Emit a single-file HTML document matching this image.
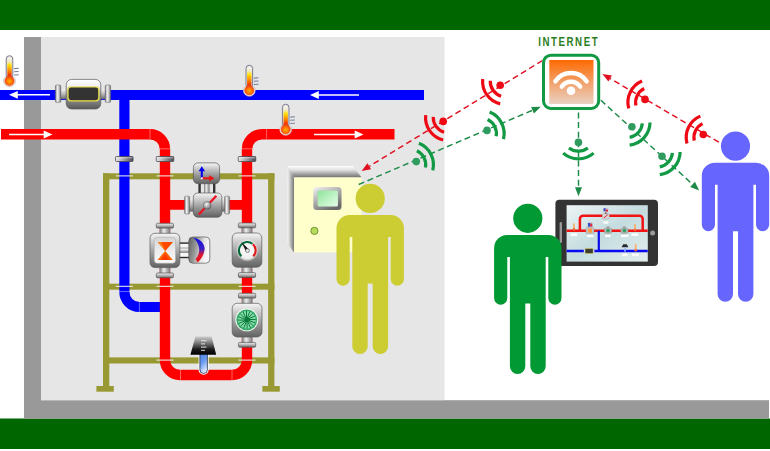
<!DOCTYPE html>
<html lang="en">
<head>
<meta charset="utf-8">
<title>Internet</title>
<style>
html,body{margin:0;padding:0;background:#fff;}
body{width:770px;height:451px;overflow:hidden;font-family:"Liberation Sans",sans-serif;}
svg{display:block;}
.lbl{font-family:"Liberation Sans",sans-serif;font-weight:bold;font-size:12.1px;letter-spacing:1.95px;fill:#2b7d22;}
</style>
</head>
<body>
<svg width="770" height="451" viewBox="0 0 770 451">
<defs>
<linearGradient id="thg" x1="0" y1="0" x2="0" y2="1">
 <stop offset="0" stop-color="#f4f4f4"/><stop offset="0.22" stop-color="#f0e9c0"/><stop offset="0.38" stop-color="#ffe000"/><stop offset="0.62" stop-color="#ff8a00"/><stop offset="0.85" stop-color="#f03000"/><stop offset="1" stop-color="#e82000"/>
</linearGradient>
<radialGradient id="thb" cx="0.5" cy="0.55" r="0.55">
 <stop offset="0" stop-color="#ffb000"/><stop offset="0.45" stop-color="#ff8000"/><stop offset="1" stop-color="#f23a10"/>
</radialGradient>
<linearGradient id="body" x1="0" y1="0" x2="0" y2="1">
 <stop offset="0" stop-color="#f6f6f6"/><stop offset="0.22" stop-color="#d2d2d2"/><stop offset="0.6" stop-color="#989898"/><stop offset="1" stop-color="#626262"/>
</linearGradient>
<linearGradient id="bodyh" x1="0" y1="0" x2="1" y2="0">
 <stop offset="0" stop-color="#7a7a7a"/><stop offset="0.35" stop-color="#f2f2f2"/><stop offset="0.65" stop-color="#c8c8c8"/><stop offset="1" stop-color="#6e6e6e"/>
</linearGradient>
<linearGradient id="flv" x1="0" y1="0" x2="0" y2="1">
 <stop offset="0" stop-color="#8a8a8a"/><stop offset="0.3" stop-color="#f4f4f4"/><stop offset="0.6" stop-color="#c4c4c4"/><stop offset="1" stop-color="#707070"/>
</linearGradient>
<linearGradient id="flh" x1="0" y1="0" x2="0" y2="1">
 <stop offset="0" stop-color="#f0f0f0"/><stop offset="0.45" stop-color="#bdbdbd"/><stop offset="1" stop-color="#6a6a6a"/>
</linearGradient>
<linearGradient id="neckh" x1="0" y1="0" x2="1" y2="0">
 <stop offset="0" stop-color="#777"/><stop offset="0.4" stop-color="#eee"/><stop offset="1" stop-color="#777"/>
</linearGradient>
<linearGradient id="org" x1="0" y1="0" x2="0" y2="1">
 <stop offset="0" stop-color="#ff6a00"/><stop offset="0.45" stop-color="#f39a5e"/><stop offset="1" stop-color="#e9d2c4"/>
</linearGradient>
<linearGradient id="boxtop" x1="0" y1="0" x2="0" y2="1">
 <stop offset="0" stop-color="#ffffff"/><stop offset="0.35" stop-color="#e0e0e0"/><stop offset="1" stop-color="#707070"/>
</linearGradient>
<linearGradient id="boxleft" x1="0" y1="0" x2="1" y2="0">
 <stop offset="0" stop-color="#f4f4f4"/><stop offset="0.4" stop-color="#c4c4c4"/><stop offset="1" stop-color="#777"/>
</linearGradient>
<linearGradient id="scr" x1="0" y1="0" x2="0.6" y2="1">
 <stop offset="0" stop-color="#f4f4f4"/><stop offset="0.5" stop-color="#b0b0b0"/><stop offset="1" stop-color="#6a6a6a"/>
</linearGradient>
<linearGradient id="scrg" x1="0" y1="0" x2="1" y2="1">
 <stop offset="0" stop-color="#8fe39a"/><stop offset="1" stop-color="#e6ffe8"/>
</linearGradient>
<linearGradient id="sens" x1="0" y1="0" x2="0" y2="1">
 <stop offset="0" stop-color="#cdcdcd"/><stop offset="0.3" stop-color="#8a8a8a"/><stop offset="0.7" stop-color="#1a1a1a"/><stop offset="1" stop-color="#000"/>
</linearGradient>
<linearGradient id="tube" x1="0" y1="0" x2="0.35" y2="1">
 <stop offset="0" stop-color="#4a80e6"/><stop offset="0.55" stop-color="#6a9cf0"/><stop offset="1" stop-color="#dce8ff"/>
</linearGradient>
<linearGradient id="tab" x1="0" y1="0" x2="1" y2="1">
 <stop offset="0" stop-color="#eef4f4"/><stop offset="0.5" stop-color="#c4dcdf"/><stop offset="1" stop-color="#e4eeee"/>
</linearGradient>
<linearGradient id="cres" x1="0" y1="0" x2="0" y2="1">
 <stop offset="0" stop-color="#1010e0"/><stop offset="0.45" stop-color="#3a20c8"/><stop offset="0.7" stop-color="#e01830"/><stop offset="1" stop-color="#f01010"/>
</linearGradient>
<linearGradient id="acth" x1="0" y1="0" x2="1" y2="0.25">
 <stop offset="0" stop-color="#5e5e5e"/><stop offset="0.4" stop-color="#9a9a9a"/><stop offset="0.75" stop-color="#e6e6e6"/><stop offset="1" stop-color="#fafafa"/>
</linearGradient>
<radialGradient id="dial" cx="0.5" cy="0.5" r="0.5">
 <stop offset="0" stop-color="#ffffff"/><stop offset="0.75" stop-color="#f2f2f2" stop-opacity="0.95"/><stop offset="1" stop-color="#e0e0e0" stop-opacity="0"/>
</radialGradient>
<linearGradient id="clampg" x1="0" y1="0" x2="1" y2="0">
 <stop offset="0" stop-color="#ececec"/><stop offset="0.45" stop-color="#a4a4aa"/><stop offset="1" stop-color="#464852"/>
</linearGradient>
<linearGradient id="win" x1="0" y1="0" x2="0" y2="1">
 <stop offset="0" stop-color="#d4d4d4"/><stop offset="0.5" stop-color="#ececec"/><stop offset="1" stop-color="#f8f8f8"/>
</linearGradient>
<linearGradient id="body2" x1="0" y1="0" x2="0" y2="1">
 <stop offset="0" stop-color="#ffffff"/><stop offset="0.22" stop-color="#f0f0f0"/><stop offset="0.5" stop-color="#a8a8a8"/><stop offset="1" stop-color="#585858"/>
</linearGradient>
<linearGradient id="hourg" x1="0" y1="0" x2="0" y2="1">
 <stop offset="0" stop-color="#ff7a00"/><stop offset="0.5" stop-color="#ff3c00"/><stop offset="1" stop-color="#ff8a00"/>
</linearGradient>
<radialGradient id="ball" cx="0.4" cy="0.35" r="0.7">
 <stop offset="0" stop-color="#f4f4f4"/><stop offset="1" stop-color="#6a6a6a"/>
</radialGradient>
</defs>

<rect x="0" y="0" width="770" height="451" fill="#fff"/>
<rect x="0" y="0" width="770" height="30" fill="#006600"/>
<rect x="0" y="418.5" width="770" height="30.5" fill="#006600"/>
<rect x="24" y="37" width="17" height="381.5" fill="#999"/>
<rect x="24" y="400.2" width="745" height="18.3" fill="#999"/>
<rect x="41" y="37" width="403.6" height="363.2" fill="#e6e6e6"/>
<g fill="#999933">
<rect x="103" y="173.3" width="171.4" height="6"/>
<rect x="103" y="283.7" width="171.4" height="6"/>
<rect x="103" y="357.4" width="171.4" height="6.1"/>
<rect x="103" y="173.3" width="6.3" height="214"/>
<rect x="268.1" y="173.3" width="6.3" height="214"/>
<rect x="96.4" y="386" width="17.4" height="5.7"/>
<rect x="262.4" y="386" width="17.4" height="5.7"/>
</g>
<g fill="none" stroke-linejoin="miter">
<path d="M0,94.9 H424" stroke="#0000ff" stroke-width="10"/>
<path d="M124.4,95 V291.5 A15,15 0 0 0 139.4,307 H161" stroke="#0000ff" stroke-width="10.2"/>
<path d="M1,134.2 H150 A15,15 0 0 1 165,149.2 V360 A15,15 0 0 0 180,375 H232 A15,15 0 0 0 247,360 V149.2 A15,15 0 0 1 262,134.2 H394.5" stroke="#ff0000" stroke-width="10.4"/>
<path d="M165,204.8 H247" stroke="#ff0000" stroke-width="9.8"/>
</g>
<line x1="150" y1="128.6" x2="150" y2="139" stroke="#ffffff" stroke-opacity="0.55" stroke-width="0.7"/>
<line x1="159.8" y1="148.8" x2="170.2" y2="148.8" stroke="#ffffff" stroke-opacity="0.55" stroke-width="0.7"/>
<line x1="266.6" y1="128.6" x2="266.6" y2="139" stroke="#ffffff" stroke-opacity="0.55" stroke-width="0.7"/>
<line x1="241.8" y1="148.8" x2="252.2" y2="148.8" stroke="#ffffff" stroke-opacity="0.55" stroke-width="0.7"/>
<line x1="180.5" y1="369.8" x2="180.5" y2="380.2" stroke="#ffffff" stroke-opacity="0.55" stroke-width="0.7"/>
<line x1="232" y1="369.8" x2="232" y2="380.2" stroke="#ffffff" stroke-opacity="0.55" stroke-width="0.7"/>
<line x1="139.4" y1="301.8" x2="139.4" y2="312.2" stroke="#ffffff" stroke-opacity="0.55" stroke-width="0.7"/>
<line x1="119.2" y1="291.5" x2="129.6" y2="291.5" stroke="#ffffff" stroke-opacity="0.55" stroke-width="0.7"/>
<line x1="50" y1="94.8" x2="16.04" y2="94.8" stroke="#fff" stroke-width="1.5"/>
<polygon points="9,94.8 17.8,90.89999999999999 17.8,98.7" fill="#fff"/>
<line x1="359" y1="95" x2="317.04" y2="95" stroke="#fff" stroke-width="1.5"/>
<polygon points="310,95 318.8,91.1 318.8,98.9" fill="#fff"/>
<line x1="9" y1="134.5" x2="45.46" y2="134.5" stroke="#fff" stroke-width="1.5"/>
<polygon points="52.5,134.5 43.7,130.6 43.7,138.4" fill="#fff"/>
<line x1="314" y1="134.5" x2="356.46" y2="134.5" stroke="#fff" stroke-width="1.5"/>
<polygon points="363.5,134.5 354.7,130.6 354.7,138.4" fill="#fff"/>
<rect x="115.55" y="156.5" width="17.5" height="5" rx="0.8" fill="url(#clampg)" stroke="#4a4a50" stroke-width="0.8"/>
<rect x="116.14999999999999" y="157.3" width="16.3" height="1" fill="#fff" opacity="0.55"/>
<rect x="156.25" y="156.5" width="17.5" height="5" rx="0.8" fill="url(#clampg)" stroke="#4a4a50" stroke-width="0.8"/>
<rect x="156.85" y="157.3" width="16.3" height="1" fill="#fff" opacity="0.55"/>
<rect x="238.25" y="156.5" width="17.5" height="5" rx="0.8" fill="url(#clampg)" stroke="#4a4a50" stroke-width="0.8"/>
<rect x="238.85" y="157.3" width="16.3" height="1" fill="#fff" opacity="0.55"/>
<rect x="115.8" y="175.4" width="17" height="1" fill="#f4f4f4"/>
<rect x="156.5" y="175.4" width="17" height="1" fill="#f4f4f4"/>
<rect x="238.5" y="175.4" width="17" height="1" fill="#f4f4f4"/>
<rect x="115.8" y="285.8" width="17" height="1" fill="#f4f4f4"/>
<rect x="156.5" y="285.8" width="17" height="1" fill="#f4f4f4"/>
<rect x="238.5" y="285.8" width="17" height="1" fill="#f4f4f4"/>
<rect x="156.5" y="359.6" width="17" height="1" fill="#f4f4f4"/>
<rect x="238.5" y="359.6" width="17" height="1" fill="#f4f4f4"/>
<g>
<rect x="60.5" y="89.4" width="45" height="9.8" fill="url(#flh)"/>
<rect x="55.4" y="85" width="5.4" height="17.4" rx="1.2" fill="url(#bodyh)" stroke="#666" stroke-width="0.5"/>
<rect x="105.2" y="85" width="5.4" height="17.4" rx="1.2" fill="url(#bodyh)" stroke="#666" stroke-width="0.5"/>
<rect x="66.2" y="79.4" width="34.6" height="29.6" rx="5.5" fill="url(#body2)" stroke="#5a5a5a" stroke-width="0.7"/>
<rect x="68" y="87" width="30.8" height="13.8" rx="3" fill="#333" stroke="#e8e040" stroke-width="1.2"/>
</g>
<g>
<rect x="189" y="198.6" width="36" height="13" fill="url(#flh)"/>
<rect x="184.6" y="196.2" width="5" height="17.8" rx="1.2" fill="url(#bodyh)" stroke="#666" stroke-width="0.5"/>
<rect x="224.6" y="196.2" width="5" height="17.8" rx="1.2" fill="url(#bodyh)" stroke="#666" stroke-width="0.5"/>
<rect x="198.4" y="182" width="2.4" height="12" fill="#333"/>
<rect x="213" y="182" width="2.4" height="12" fill="#333"/>
<rect x="204" y="182" width="5.6" height="12" fill="url(#neckh)"/>
<rect x="193.3" y="193" width="28.6" height="24.2" rx="4.5" fill="url(#body)" stroke="#5a5a5a" stroke-width="0.7"/>
<line x1="198.8" y1="214.6" x2="216.4" y2="195.8" stroke="#ee1122" stroke-width="2.2"/>
<circle cx="207.2" cy="205.4" r="3.9" fill="url(#ball)" stroke="#555" stroke-width="0.5"/>
<rect x="193.4" y="162.9" width="26.2" height="20.8" rx="4.5" fill="url(#body)" stroke="#5a5a5a" stroke-width="0.7"/>
<line x1="201.8" y1="178.3" x2="201.8" y2="170" stroke="#0000ee" stroke-width="2"/>
<polygon points="201.8,166.2 198.6,171.2 205,171.2" fill="#0000ee"/>
<line x1="201.8" y1="178.3" x2="210" y2="178.3" stroke="#ee1111" stroke-width="2"/>
<polygon points="214.4,178.3 209.2,175.2 209.2,181.4" fill="#ee1111"/>
<circle cx="201.8" cy="178.3" r="1.1" fill="#fff"/>
</g>
<g>
<rect x="179" y="242.4" width="11" height="15.8" fill="#2a2a2a"/>
<rect x="179" y="243.8" width="11" height="13" fill="#f6f6f6"/>
<rect x="179" y="247.6" width="11" height="5.2" fill="url(#flv)"/>
<rect x="159.6" y="227.3" width="10.6" height="7" fill="url(#neckh)"/>
<rect x="156.3" y="223.3" width="17.2" height="4.8" rx="1.2" fill="url(#flh)" stroke="#555" stroke-width="0.7"/>
<rect x="159.6" y="266.6" width="10.6" height="7" fill="url(#neckh)"/>
<rect x="156.3" y="273.0" width="17.2" height="4.8" rx="1.2" fill="url(#flh)" stroke="#555" stroke-width="0.7"/>
<rect x="150.0" y="233.3" width="29.8" height="34.30000000000001" rx="5" fill="url(#body)" stroke="#5a5a5a" stroke-width="0.7"/>
<rect x="154.3" y="237.3" width="21.2" height="26" rx="3" fill="url(#win)" stroke="#a8a8a8" stroke-width="0.5"/>
<polygon points="157.5,242 172.8,242 165.2,251" fill="#ff7a10"/>
<polygon points="157.5,259.9 172.8,259.9 165.2,251" fill="#ff6200"/>
<polygon points="161.5,242 172.8,242 165.2,251" fill="#ff4a00"/>
<polygon points="161,259.9 169.4,259.9 165.2,253.5" fill="#ff3a00"/>
<rect x="188.8" y="237" width="21" height="26.2" rx="4" fill="url(#acth)" stroke="#5a5a5a" stroke-width="0.7"/>
<path d="M193.4,237.8 C202,239 206,246 204.2,251.5 C203,257 200,260.5 197.6,262.3 L195.6,259 C199,255.5 200,250.5 198.6,246 C197.5,242 195.5,239.5 193.4,237.8 Z" fill="url(#cres)"/>
</g>
<g>
<rect x="241.7" y="227" width="10.6" height="7" fill="url(#neckh)"/>
<rect x="238.4" y="223" width="17.2" height="4.8" rx="1.2" fill="url(#flh)" stroke="#555" stroke-width="0.7"/>
<rect x="241.7" y="266.2" width="10.6" height="7" fill="url(#neckh)"/>
<rect x="238.4" y="272.59999999999997" width="17.2" height="4.8" rx="1.2" fill="url(#flh)" stroke="#555" stroke-width="0.7"/>
<rect x="232.2" y="233" width="29.6" height="34.19999999999999" rx="5" fill="url(#body)" stroke="#5a5a5a" stroke-width="0.7"/>
<circle cx="247.3" cy="250.2" r="11.6" fill="url(#dial)"/>
<path d="M241.36,256.34 A8.4,8.4 0 0 1 252.47,243.78" fill="none" stroke="#046a3a" stroke-width="2.1"/>
<path d="M252.92,244.16 A8.4,8.4 0 0 1 253.24,256.34" fill="none" stroke="#e01818" stroke-width="2.1"/>
<polygon points="241.2,241.8 249,249.4 246.2,251.8" fill="#1a1a1a"/>
<circle cx="247.5" cy="250.6" r="1.9" fill="#eee" stroke="#555" stroke-width="0.7"/>
</g>
<g>
<rect x="241.79999999999998" y="297.3" width="10.6" height="7" fill="url(#neckh)"/>
<rect x="238.5" y="293.3" width="17.2" height="4.8" rx="1.2" fill="url(#flh)" stroke="#555" stroke-width="0.7"/>
<rect x="241.79999999999998" y="336" width="10.6" height="7" fill="url(#neckh)"/>
<rect x="238.5" y="342.4" width="17.2" height="4.8" rx="1.2" fill="url(#flh)" stroke="#555" stroke-width="0.7"/>
<rect x="232.2" y="303.3" width="29.8" height="33.69999999999999" rx="5" fill="url(#body)" stroke="#5a5a5a" stroke-width="0.7"/>
<circle cx="246.8" cy="319.8" r="11.5" fill="#e8f6ee"/>
<circle cx="246.8" cy="319.8" r="10.4" fill="#35a868"/>
<circle cx="246.8" cy="319.8" r="8.9" fill="#86dcaa"/>
<line x1="247.99" y1="319.97" x2="255.13" y2="322.93" stroke="#0a7a3a" stroke-width="1"/>
<line x1="247.83" y1="320.41" x2="253.30" y2="325.88" stroke="#0a7a3a" stroke-width="1"/>
<line x1="247.52" y1="320.76" x2="250.48" y2="327.91" stroke="#0a7a3a" stroke-width="1"/>
<line x1="247.10" y1="320.96" x2="247.09" y2="328.70" stroke="#0a7a3a" stroke-width="1"/>
<line x1="246.63" y1="320.99" x2="243.67" y2="328.13" stroke="#0a7a3a" stroke-width="1"/>
<line x1="246.19" y1="320.83" x2="240.72" y2="326.30" stroke="#0a7a3a" stroke-width="1"/>
<line x1="245.84" y1="320.52" x2="238.69" y2="323.48" stroke="#0a7a3a" stroke-width="1"/>
<line x1="245.64" y1="320.10" x2="237.90" y2="320.09" stroke="#0a7a3a" stroke-width="1"/>
<line x1="245.61" y1="319.63" x2="238.47" y2="316.67" stroke="#0a7a3a" stroke-width="1"/>
<line x1="245.77" y1="319.19" x2="240.30" y2="313.72" stroke="#0a7a3a" stroke-width="1"/>
<line x1="246.08" y1="318.84" x2="243.12" y2="311.69" stroke="#0a7a3a" stroke-width="1"/>
<line x1="246.50" y1="318.64" x2="246.51" y2="310.90" stroke="#0a7a3a" stroke-width="1"/>
<line x1="246.97" y1="318.61" x2="249.93" y2="311.47" stroke="#0a7a3a" stroke-width="1"/>
<line x1="247.41" y1="318.77" x2="252.88" y2="313.30" stroke="#0a7a3a" stroke-width="1"/>
<line x1="247.76" y1="319.08" x2="254.91" y2="316.12" stroke="#0a7a3a" stroke-width="1"/>
<line x1="247.96" y1="319.50" x2="255.70" y2="319.51" stroke="#0a7a3a" stroke-width="1"/>
<circle cx="246.8" cy="319.8" r="2.2" fill="#0a7a3a"/>
</g>
<g>
<path d="M199.3,352 V369.7 A4.35,4.35 0 0 0 208,369.7 V352 Z" fill="#fff" stroke="#fff" stroke-width="1.4"/>
<path d="M199.9,352 V369.7 A3.75,3.75 0 0 0 207.4,369.7 V352 Z" fill="url(#tube)" stroke="#2a3350" stroke-width="0.8"/>
<polygon points="195.4,336.4 211.6,336.4 216.2,354.8 190.4,354.8" fill="url(#sens)"/>
<rect x="201" y="340.2" width="5.5" height="1" fill="#eee" opacity="0.9"/>
<rect x="201" y="343.4" width="4" height="1" fill="#eee" opacity="0.9"/>
<rect x="201" y="346.6" width="5.5" height="1" fill="#eee" opacity="0.9"/>
<rect x="201" y="349.8" width="4" height="1" fill="#eee" opacity="0.9"/>
</g>
<g>
<circle cx="9.5" cy="80.9" r="5.9" fill="#fff" stroke="#b8b0b0" stroke-width="0.7"/>
<rect x="6.2" y="55.7" width="6.6" height="23" rx="3.3" fill="#e4e4e8" stroke="#7c7c8c" stroke-width="1"/>
<rect x="7.3" y="56.900000000000006" width="4.4" height="22" rx="2.2" fill="url(#thg)"/>
<circle cx="9.5" cy="80.9" r="4.7" fill="url(#thb)" stroke="#f0542a" stroke-width="0.6"/>
<line x1="14.1" y1="68.60000000000001" x2="18.7" y2="68.30000000000001" stroke="#76829a" stroke-width="1.1"/>
<line x1="14.1" y1="71.8" x2="18.7" y2="71.5" stroke="#76829a" stroke-width="1.1"/>
<line x1="14.1" y1="75.00000000000001" x2="18.7" y2="74.70000000000002" stroke="#76829a" stroke-width="1.1"/>
</g>
<g>
<circle cx="249.3" cy="90.4" r="5.9" fill="#fff" stroke="#b8b0b0" stroke-width="0.7"/>
<rect x="246.0" y="65.2" width="6.6" height="23" rx="3.3" fill="#e4e4e8" stroke="#7c7c8c" stroke-width="1"/>
<rect x="247.10000000000002" y="66.4" width="4.4" height="22" rx="2.2" fill="url(#thg)"/>
<circle cx="249.3" cy="90.4" r="4.7" fill="url(#thb)" stroke="#f0542a" stroke-width="0.6"/>
<line x1="253.9" y1="78.10000000000001" x2="258.5" y2="77.80000000000001" stroke="#76829a" stroke-width="1.1"/>
<line x1="253.9" y1="81.3" x2="258.5" y2="81.0" stroke="#76829a" stroke-width="1.1"/>
<line x1="253.9" y1="84.50000000000001" x2="258.5" y2="84.20000000000002" stroke="#76829a" stroke-width="1.1"/>
</g>
<g>
<circle cx="285.7" cy="129.4" r="5.9" fill="#fff" stroke="#b8b0b0" stroke-width="0.7"/>
<rect x="282.4" y="104.2" width="6.6" height="23" rx="3.3" fill="#e4e4e8" stroke="#7c7c8c" stroke-width="1"/>
<rect x="283.5" y="105.4" width="4.4" height="22" rx="2.2" fill="url(#thg)"/>
<circle cx="285.7" cy="129.4" r="4.7" fill="url(#thb)" stroke="#f0542a" stroke-width="0.6"/>
<line x1="290.3" y1="117.10000000000001" x2="294.9" y2="116.80000000000001" stroke="#76829a" stroke-width="1.1"/>
<line x1="290.3" y1="120.3" x2="294.9" y2="120.0" stroke="#76829a" stroke-width="1.1"/>
<line x1="290.3" y1="123.50000000000001" x2="294.9" y2="123.20000000000002" stroke="#76829a" stroke-width="1.1"/>
</g>
<g>
<polygon points="287.6,166 353,166 361.6,177.4 294,177.4" fill="url(#boxtop)"/>
<polygon points="287.6,166 294,177.4 294,252.4 287.6,243.5" fill="url(#boxleft)"/>
<rect x="294" y="177.4" width="67.6" height="75" fill="#ffffcc"/>
<rect x="313.3" y="187" width="28.2" height="23" rx="3.5" fill="url(#scr)"/>
<rect x="317.6" y="190.5" width="20.3" height="16" rx="1.5" fill="url(#scrg)"/>
<circle cx="314.4" cy="230.9" r="3.6" fill="#b5dc5a" stroke="#6a8a2a" stroke-width="0.9"/>
</g>
<line x1="542.50" y1="60.50" x2="369.28" y2="166.31" stroke="#e01020" stroke-width="1.45" stroke-dasharray="6 3.6" stroke-dashoffset="0"/>
<polygon points="361.60,171.00 367.46,163.32 371.10,169.30" fill="#e01020"/>
<line x1="358.70" y1="184.50" x2="532.52" y2="110.24" stroke="#1e8a48" stroke-width="1.45" stroke-dasharray="6 3.6" stroke-dashoffset="0"/>
<polygon points="540.80,106.70 533.90,113.45 531.15,107.02" fill="#1e8a48"/>
<line x1="718.80" y1="142.20" x2="610.17" y2="78.55" stroke="#e01020" stroke-width="1.45" stroke-dasharray="6 3.6" stroke-dashoffset="0"/>
<polygon points="602.40,74.00 611.93,75.53 608.40,81.57" fill="#e01020"/>
<line x1="600.90" y1="100.30" x2="692.57" y2="184.32" stroke="#1e8a48" stroke-width="1.45" stroke-dasharray="6 3.6" stroke-dashoffset="0"/>
<polygon points="699.20,190.40 690.20,186.90 694.93,181.74" fill="#1e8a48"/>
<line x1="578.50" y1="112.50" x2="578.50" y2="187.30" stroke="#1e8a48" stroke-width="1.45" stroke-dasharray="6 3.6" stroke-dashoffset="0"/>
<polygon points="578.50,196.30 575.00,187.30 582.00,187.30" fill="#1e8a48"/>
<circle cx="500.2" cy="85.3" r="3.8" fill="#ee0a14"/>
<path d="M501.11,96.18 A15.5,15.5 0 0 1 490.28,80.72 M500.16,103.91 A23.2,23.2 0 0 1 482.70,78.97" fill="none" stroke="#ee0a14" stroke-width="3.2"/>
<circle cx="443.2" cy="121.4" r="3.8" fill="#ee0a14"/>
<path d="M444.11,132.28 A15.5,15.5 0 0 1 433.28,116.82 M443.16,140.01 A23.2,23.2 0 0 1 425.70,115.07" fill="none" stroke="#ee0a14" stroke-width="3.2"/>
<circle cx="487" cy="130.4" r="3.8" fill="#2f9b5e"/>
<path d="M487.61,119.50 A15.5,15.5 0 0 1 496.18,136.31 M489.63,111.98 A23.2,23.2 0 0 1 503.45,139.10" fill="none" stroke="#119944" stroke-width="3.2"/>
<circle cx="416.3" cy="161.6" r="3.8" fill="#2f9b5e"/>
<path d="M416.91,150.70 A15.5,15.5 0 0 1 425.48,167.51 M418.93,143.18 A23.2,23.2 0 0 1 432.75,170.30" fill="none" stroke="#119944" stroke-width="3.2"/>
<circle cx="645" cy="99.4" r="3.8" fill="#ee0a14"/>
<path d="M635.92,105.47 A15.5,15.5 0 0 1 644.20,88.51 M628.70,108.39 A23.2,23.2 0 0 1 642.05,81.03" fill="none" stroke="#ee0a14" stroke-width="3.2"/>
<circle cx="703.3" cy="134.5" r="3.8" fill="#ee0a14"/>
<path d="M694.22,140.57 A15.5,15.5 0 0 1 702.50,123.61 M687.00,143.49 A23.2,23.2 0 0 1 700.35,116.13" fill="none" stroke="#ee0a14" stroke-width="3.2"/>
<circle cx="631.9" cy="126.7" r="3.8" fill="#2f9b5e"/>
<path d="M642.30,123.37 A15.5,15.5 0 0 1 629.67,137.39 M650.04,122.55 A23.2,23.2 0 0 1 629.67,145.18" fill="none" stroke="#119944" stroke-width="3.2"/>
<circle cx="662" cy="156.2" r="3.8" fill="#2f9b5e"/>
<path d="M672.40,152.87 A15.5,15.5 0 0 1 659.77,166.89 M680.14,152.05 A23.2,23.2 0 0 1 659.77,174.68" fill="none" stroke="#119944" stroke-width="3.2"/>
<circle cx="578.4" cy="142.4" r="3.8" fill="#2f9b5e"/>
<path d="M587.84,147.90 A15.5,15.5 0 0 1 568.96,147.90 M593.62,153.11 A23.2,23.2 0 0 1 563.18,153.11" fill="none" stroke="#119944" stroke-width="3.2"/>
<g>
<rect x="543.5" y="55.2" width="55.2" height="53.2" rx="7.5" fill="#fff" stroke="#119944" stroke-width="3"/>
<rect x="549.3" y="60" width="44.2" height="44" fill="url(#org)"/>
<circle cx="571" cy="90.7" r="4.3" fill="#fff"/>
<path d="M561.83,86.58 A11.2,11.2 0 0 1 580.17,86.58" fill="none" stroke="#fff" stroke-width="4.5" stroke-linecap="round"/>
<path d="M555.41,81.29 A18.8,18.8 0 0 1 586.59,81.29" fill="none" stroke="#fff" stroke-width="4.5" stroke-linecap="round"/>
</g>
<text class="lbl" transform="translate(538.3,45.7) scale(0.80,1)" x="0" y="0">INTERNET</text>
<g>
<rect x="555.4" y="199.8" width="102.6" height="66.2" rx="4" fill="#333"/>
<rect x="566.6" y="205.2" width="81.2" height="56.4" fill="url(#tab)"/>
<rect x="559.6" y="222" width="2.4" height="21" rx="1.2" fill="#999"/>
<circle cx="652.6" cy="233" r="2.5" fill="#999"/>
<path d="M579.9,230.6 V219 A3.2,3.2 0 0 1 583.1,215.8 H639.5 A3.2,3.2 0 0 1 642.7,219 V230.6" fill="none" stroke="#f01414" stroke-width="2.5"/>
<line x1="566.6" y1="230.7" x2="647.7" y2="230.7" stroke="#f01414" stroke-width="2.4"/>
<line x1="566.6" y1="251" x2="647.7" y2="251" stroke="#0a0aee" stroke-width="2.3"/>
<line x1="598.8" y1="230.7" x2="598.8" y2="251" stroke="#0a0aee" stroke-width="2.2"/>
<rect x="602.3" y="213.6" width="7" height="5.4" rx="1.2" fill="#d8d8d8" stroke="#999" stroke-width="0.4"/>
<line x1="603.8" y1="218" x2="607.8" y2="214.6" stroke="#e02040" stroke-width="1"/>
<rect x="603.3" y="207.8" width="5" height="4.8" rx="1" fill="#c9c9d4"/>
<rect x="603.6" y="208.2" width="2" height="3" fill="#3a4ad0"/><rect x="605.6" y="209.6" width="2.4" height="2" fill="#e02a3a"/>
<rect x="605" y="212.4" width="1.6" height="1.6" fill="#666"/>
<rect x="586" y="227.4" width="8" height="6.4" rx="1.2" fill="#c4c4c4" stroke="#8a8a8a" stroke-width="0.4"/>
<rect x="588" y="228.6" width="4" height="4" fill="#ff9a40"/>
<rect x="587.6" y="222.6" width="5" height="4.8" rx="1.2" fill="#b8b8c4"/>
<rect x="588" y="223" width="2.2" height="3.6" fill="#3a4ad0"/><rect x="590.2" y="223.6" width="2" height="3" fill="#e02a3a"/>
<rect x="604.4" y="228" width="7.2" height="5.4" rx="1.2" fill="#b4bab6" stroke="#8a8a8a" stroke-width="0.4"/>
<circle cx="608" cy="230.6" r="1.9" fill="#3aa06a"/>
<rect x="606.6" y="226.4" width="2.8" height="1.8" fill="#9a9a9a"/>
<rect x="620.8" y="228" width="7.2" height="5.4" rx="1.2" fill="#b4bab6" stroke="#8a8a8a" stroke-width="0.4"/>
<circle cx="624.4" cy="230.6" r="1.9" fill="#3aa06a"/>
<rect x="623.0" y="226.4" width="2.8" height="1.8" fill="#9a9a9a"/>
<rect x="585" y="248.6" width="8.2" height="4.8" rx="1" fill="#3a3a30" stroke="#d8d060" stroke-width="0.6"/>
<rect x="583.8" y="249.4" width="1.2" height="3.2" fill="#ddd"/><rect x="593.2" y="249.4" width="1.2" height="3.2" fill="#ddd"/>
<polygon points="623.2,244.2 626.8,244.2 628.4,247.2 621.6,247.2" fill="#2a2a2a"/>
<rect x="624.2" y="247.2" width="1.6" height="4.4" fill="#9ab8f0"/>
<rect x="573.0" y="223.2" width="1.8" height="6" rx="0.9" fill="#f8b070"/>
<circle cx="573.9" cy="229.39999999999998" r="1.3" fill="#f06a30"/>
<rect x="634.1" y="223.8" width="1.8" height="6" rx="0.9" fill="#f8b070"/>
<circle cx="635" cy="230.0" r="1.3" fill="#f06a30"/>
<rect x="634.8000000000001" y="244" width="1.8" height="6" rx="0.9" fill="#f8b070"/>
<circle cx="635.7" cy="250.2" r="1.3" fill="#f06a30"/>
<rect x="570.8" y="233.4" width="6.4" height="2.5" fill="#fff" opacity="0.92"/>
<rect x="587" y="234.6" width="6.4" height="2.5" fill="#fff" opacity="0.92"/>
<rect x="605" y="234.6" width="5.6" height="2.5" fill="#fff" opacity="0.92"/>
<rect x="621" y="234.6" width="7.4" height="2.5" fill="#fff" opacity="0.92"/>
<rect x="631.4" y="233.4" width="6.6" height="2.5" fill="#fff" opacity="0.92"/>
<rect x="603.4" y="221.2" width="5" height="2.5" fill="#fff" opacity="0.92"/>
<rect x="622.4" y="253.6" width="5" height="2.5" fill="#fff" opacity="0.92"/>
<rect x="632" y="253.6" width="7" height="2.5" fill="#fff" opacity="0.92"/>
</g>
<g fill="#cccc33"><circle cx="370.2" cy="198.40" r="14.6"/><path d="M349.50,215.10 H390.90 A13.0,13.0 0 0 1 403.90,228.10 V279.10 A6.60,6.60 0 0 1 390.70,279.10 V237.10 H388.10 V346.40 A7.70,7.70 0 0 1 372.70,346.40 V283.50 H367.70 V346.40 A7.70,7.70 0 0 1 352.30,346.40 V237.10 H349.70 V279.10 A6.60,6.60 0 0 1 336.50,279.10 V228.10 A13.0,13.0 0 0 1 349.50,215.10Z"/></g>
<g fill="#009933"><circle cx="527.8" cy="218.30" r="14.6"/><path d="M507.10,235.00 H548.50 A13.0,13.0 0 0 1 561.50,248.00 V298.10 A6.60,6.60 0 0 1 548.30,298.10 V257.00 H545.70 V366.30 A7.70,7.70 0 0 1 530.30,366.30 V303.40 H525.30 V366.30 A7.70,7.70 0 0 1 509.90,366.30 V257.00 H507.30 V298.10 A6.60,6.60 0 0 1 494.10,298.10 V248.00 A13.0,13.0 0 0 1 507.10,235.00Z"/></g>
<g fill="#6666ff"><circle cx="735.5" cy="146.10" r="14.6"/><path d="M714.80,162.80 H756.20 A13.0,13.0 0 0 1 769.20,175.80 V224.60 A6.60,6.60 0 0 1 756.00,224.60 V184.80 H753.40 V294.10 A7.70,7.70 0 0 1 738.00,294.10 V231.20 H733.00 V294.10 A7.70,7.70 0 0 1 717.60,294.10 V184.80 H715.00 V224.60 A6.60,6.60 0 0 1 701.80,224.60 V175.80 A13.0,13.0 0 0 1 714.80,162.80Z"/></g>
</svg>
</body>
</html>
